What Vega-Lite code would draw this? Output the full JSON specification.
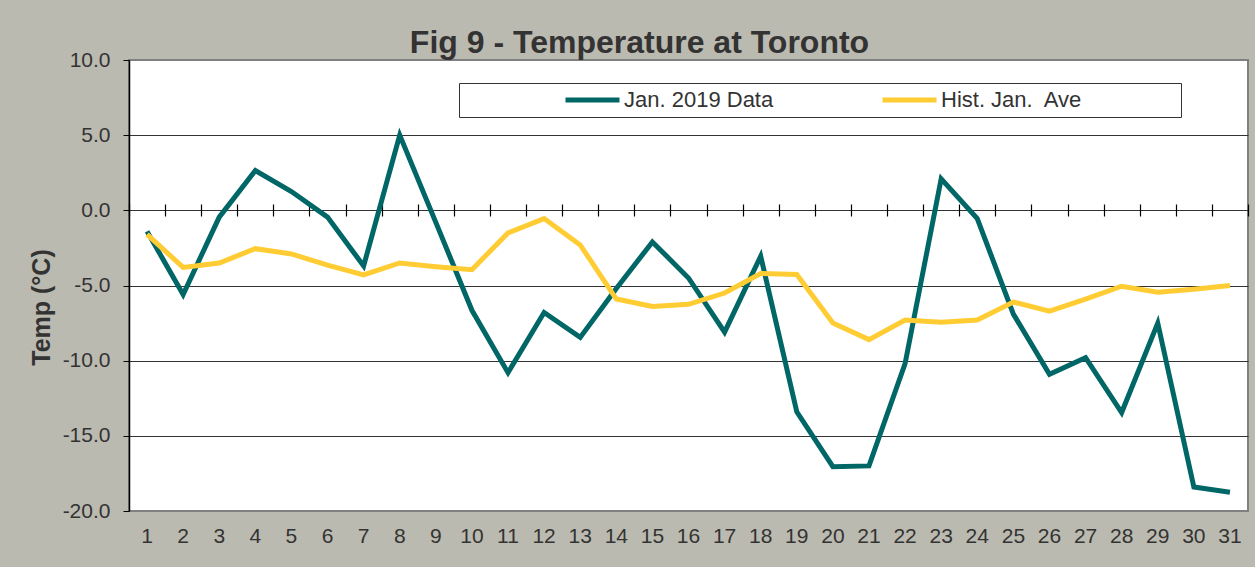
{
  "$schema": "https://vega.github.io/schema/vega-lite/v6.json",
  "autosize": "none",
  "width": 1119,
  "height": 451,
  "padding": {"left": 129, "top": 60, "right": 7, "bottom": 56},
  "background": "#BBBAB0",
  "title": {
    "text": "Fig 9 - Temperature at Toronto",
    "fontSize": 32,
    "fontWeight": "bold",
    "color": "#333333",
    "font": "Liberation Sans",
    "anchor": "middle",
    "dx": -49,
    "baseline": "alphabetic",
    "offset": -36
  },
  "config": {
    "view": {"fill": "white", "stroke": "#808080", "strokeWidth": 2},
    "font": "Liberation Sans"
  },
  "datasets": {
    "temps": [
      {"day": 1, "series": "Jan. 2019 Data", "temp": -1.4},
      {"day": 2, "series": "Jan. 2019 Data", "temp": -5.6},
      {"day": 3, "series": "Jan. 2019 Data", "temp": -0.45},
      {"day": 4, "series": "Jan. 2019 Data", "temp": 2.65},
      {"day": 5, "series": "Jan. 2019 Data", "temp": 1.25},
      {"day": 6, "series": "Jan. 2019 Data", "temp": -0.45},
      {"day": 7, "series": "Jan. 2019 Data", "temp": -3.7},
      {"day": 8, "series": "Jan. 2019 Data", "temp": 5.0},
      {"day": 9, "series": "Jan. 2019 Data", "temp": -0.8},
      {"day": 10, "series": "Jan. 2019 Data", "temp": -6.65},
      {"day": 11, "series": "Jan. 2019 Data", "temp": -10.8},
      {"day": 12, "series": "Jan. 2019 Data", "temp": -6.8},
      {"day": 13, "series": "Jan. 2019 Data", "temp": -8.45},
      {"day": 14, "series": "Jan. 2019 Data", "temp": -5.2},
      {"day": 15, "series": "Jan. 2019 Data", "temp": -2.1},
      {"day": 16, "series": "Jan. 2019 Data", "temp": -4.5},
      {"day": 17, "series": "Jan. 2019 Data", "temp": -8.1},
      {"day": 18, "series": "Jan. 2019 Data", "temp": -3.05},
      {"day": 19, "series": "Jan. 2019 Data", "temp": -13.4},
      {"day": 20, "series": "Jan. 2019 Data", "temp": -17.05},
      {"day": 21, "series": "Jan. 2019 Data", "temp": -17.0},
      {"day": 22, "series": "Jan. 2019 Data", "temp": -10.2},
      {"day": 23, "series": "Jan. 2019 Data", "temp": 2.1},
      {"day": 24, "series": "Jan. 2019 Data", "temp": -0.55},
      {"day": 25, "series": "Jan. 2019 Data", "temp": -6.9},
      {"day": 26, "series": "Jan. 2019 Data", "temp": -10.9},
      {"day": 27, "series": "Jan. 2019 Data", "temp": -9.8},
      {"day": 28, "series": "Jan. 2019 Data", "temp": -13.45},
      {"day": 29, "series": "Jan. 2019 Data", "temp": -7.5},
      {"day": 30, "series": "Jan. 2019 Data", "temp": -18.4},
      {"day": 31, "series": "Jan. 2019 Data", "temp": -18.75},
      {"day": 1, "series": "Hist. Jan.  Ave", "temp": -1.6},
      {"day": 2, "series": "Hist. Jan.  Ave", "temp": -3.8},
      {"day": 3, "series": "Hist. Jan.  Ave", "temp": -3.5},
      {"day": 4, "series": "Hist. Jan.  Ave", "temp": -2.55},
      {"day": 5, "series": "Hist. Jan.  Ave", "temp": -2.9},
      {"day": 6, "series": "Hist. Jan.  Ave", "temp": -3.65},
      {"day": 7, "series": "Hist. Jan.  Ave", "temp": -4.3},
      {"day": 8, "series": "Hist. Jan.  Ave", "temp": -3.5},
      {"day": 9, "series": "Hist. Jan.  Ave", "temp": -3.75},
      {"day": 10, "series": "Hist. Jan.  Ave", "temp": -3.95},
      {"day": 11, "series": "Hist. Jan.  Ave", "temp": -1.5},
      {"day": 12, "series": "Hist. Jan.  Ave", "temp": -0.55},
      {"day": 13, "series": "Hist. Jan.  Ave", "temp": -2.3},
      {"day": 14, "series": "Hist. Jan.  Ave", "temp": -5.9},
      {"day": 15, "series": "Hist. Jan.  Ave", "temp": -6.4},
      {"day": 16, "series": "Hist. Jan.  Ave", "temp": -6.25},
      {"day": 17, "series": "Hist. Jan.  Ave", "temp": -5.5},
      {"day": 18, "series": "Hist. Jan.  Ave", "temp": -4.2},
      {"day": 19, "series": "Hist. Jan.  Ave", "temp": -4.27},
      {"day": 20, "series": "Hist. Jan.  Ave", "temp": -7.5},
      {"day": 21, "series": "Hist. Jan.  Ave", "temp": -8.6},
      {"day": 22, "series": "Hist. Jan.  Ave", "temp": -7.3},
      {"day": 23, "series": "Hist. Jan.  Ave", "temp": -7.45},
      {"day": 24, "series": "Hist. Jan.  Ave", "temp": -7.3},
      {"day": 25, "series": "Hist. Jan.  Ave", "temp": -6.1},
      {"day": 26, "series": "Hist. Jan.  Ave", "temp": -6.7},
      {"day": 27, "series": "Hist. Jan.  Ave", "temp": -5.9},
      {"day": 28, "series": "Hist. Jan.  Ave", "temp": -5.05},
      {"day": 29, "series": "Hist. Jan.  Ave", "temp": -5.45},
      {"day": 30, "series": "Hist. Jan.  Ave", "temp": -5.25},
      {"day": 31, "series": "Hist. Jan.  Ave", "temp": -5.0}
    ]
  },
  "data": {"name": "temps"},
  "layer": [
    {
      "transform": [{"filter": "datum.series == 'Jan. 2019 Data'"}],
      "mark": {"type": "line", "strokeWidth": 5},
      "encoding": {
        "x": {
          "field": "day",
          "type": "ordinal",
          "scale": {"type": "band", "paddingInner": 0, "paddingOuter": 0},
          "axis": {
            "orient": "bottom",
            "title": null,
            "domain": false,
            "ticks": false,
            "tickSize": 0,
            "grid": false,
            "labelAngle": 0,
            "labelFontSize": 21,
            "labelColor": "#333333",
            "labelPadding": 14
          }
        },
        "y": {
          "field": "temp",
          "type": "quantitative",
          "scale": {"domain": [-20, 10], "nice": false, "zero": false},
          "axis": {
            "values": [-20, -15, -10, -5, 0, 5, 10],
            "labelExpr": "replace(format(datum.value, '.1f'), '\u2212', '-')",
            "labelFontSize": 21,
            "labelColor": "#333333",
            "labelPadding": 13,
            "tickSize": 6,
            "tickColor": "#000000",
            "domainColor": "#000000",
            "domainWidth": 1.5,
            "gridColor": {"condition": {"test": "datum.value == 10 || datum.value == -20", "value": "#808080"}, "value": "#333333"},
            "gridWidth": 1.2,
            "title": "Temp (°C)",
            "titleFontSize": 25,
            "titleFontWeight": "bold",
            "titleColor": "#333333",
            "titleX": -88,
            "titleY": 247,
            "titleAngle": -90,
            "titleAlign": "center",
            "titleBaseline": "middle"
          }
        },
        "color": {
          "field": "series",
          "type": "nominal",
          "scale": {"domain": ["Jan. 2019 Data", "Hist. Jan.  Ave"], "range": ["#006666", "#FFCC33"]},
          "legend": {
            "title": null,
            "orient": "none",
            "legendX": 330,
            "legendY": 23,
            "direction": "horizontal",
            "columns": 2,
            "fillColor": "white",
            "strokeColor": "#333333",
            "padding": 6,
            "symbolType": "stroke",
            "symbolSize": 2916,
            "symbolStrokeWidth": 5,
            "symbolOffset": 98,
            "labelOffset": 2,
            "columnPadding": 8,
            "clipHeight": 22,
            "labelFontSize": 22,
            "labelLimit": 400,
            "labelColor": "#333333",
            "labelExpr": "substring(datum.label, 0, 4) == 'Hist' ? 'Hist. Jan.\u00a0 Ave\u00a0\u00a0\u00a0\u00a0\u00a0\u00a0\u00a0\u00a0\u00a0\u00a0\u00a0\u00a0\u00a0\u00a0\u00a0\u200b' : datum.label"
          }
        }
      }
    },
    {
      "transform": [{"filter": "datum.series == 'Hist. Jan.  Ave'"}],
      "mark": {"type": "line", "strokeWidth": 5},
      "encoding": {
        "x": {
          "field": "day",
          "type": "ordinal",
          "scale": {"type": "band", "paddingInner": 0, "paddingOuter": 0},
          "axis": {
            "orient": "top",
            "offset": -156,
            "title": null,
            "domain": false,
            "labels": false,
            "ticks": true,
            "tickSize": 12,
            "tickColor": "#000000",
            "tickWidth": 1.2,
            "tickBand": "extent",
            "grid": false
          }
        },
        "y": {"field": "temp", "type": "quantitative"},
        "color": {"field": "series", "type": "nominal"}
      }
    }
  ],
  "resolve": {"axis": {"x": "independent"}}
}
